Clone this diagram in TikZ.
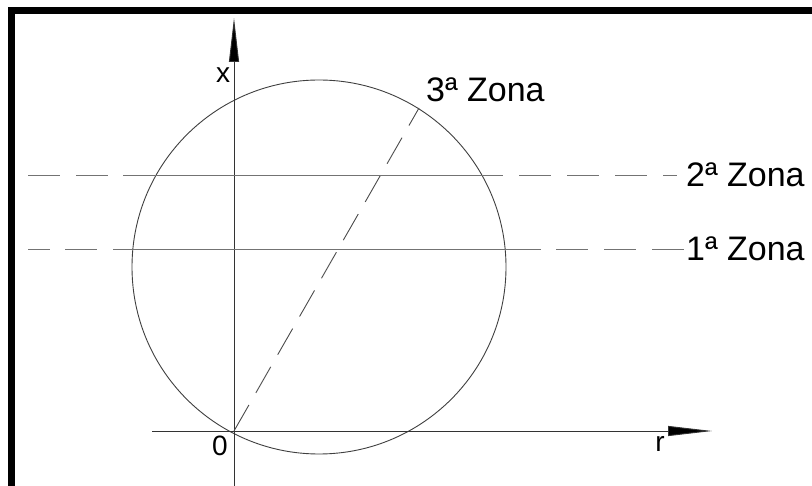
\documentclass[tikz,border=0pt]{standalone}
\usepackage{fontspec}
\setmainfont{Liberation Sans}
\usetikzlibrary{arrows.meta}
\begin{document}
\begin{tikzpicture}[x=1pt,y=-1pt,
  thinline/.style={line width=0.9pt, draw=black!75},
  zoneline/.style={line width=0.9pt, draw=black!55},
  dashline/.style={zoneline, dash pattern=on 32pt off 16pt},
  lbl/.style={font=\fontsize{34}{34}\selectfont, inner sep=0pt},
  axlbl/.style={font=\fontsize{28}{28}\selectfont, inner sep=0pt},
  axisarrow/.style={line width=0.9pt, draw=black!80, -{Triangle[length=44pt,width=10pt,fill=black]}}
]
\useasboundingbox (0,0) rectangle (812,486);
\clip (0,0) rectangle (812,486);
\fill[white] (0,0) rectangle (812,486);
\draw[line width=7pt] (11.5,10.5) rectangle (900,600);
% key points
\coordinate (O) at (234,431);
\coordinate (C) at (319,267);
\coordinate (xbot) at (234,486);
\coordinate (xtop) at (234,18);
\coordinate (rleft) at (152,431);
\coordinate (rtip) at (712,431);
\coordinate (D) at (419,108);
% labels
\node[lbl, anchor=west] (z3) at (426,90) {3ª Zona};
\node[lbl, anchor=west] (z2) at (686,175) {2ª Zona};
\node[lbl, anchor=west] (z1) at (686,249) {1ª Zona};
\node[axlbl] (xl) at (223,75) {x};
\node[axlbl] (ol) at (220,446) {0};
\node[axlbl] (rl) at (660,444) {r};
% circle
\draw[thinline] (C) circle [radius=187pt];
% axes
\draw[axisarrow] (xbot) -- (xtop);
\draw[axisarrow] (rleft) -- (rtip);
% diagonal
\draw[line width=0.9pt, draw=black!70, dash pattern=on 30pt off 14pt] (O) -- (D);
% 2a zona line
\coordinate (L2a) at (28,175);
\coordinate (L2b) at (123,175);
\coordinate (R2a) at (503,175);
\coordinate (R2b) at (519,175);
\coordinate (R2c) at (677,175);
\draw[dashline] (L2a) -- (L2b);
\draw[zoneline] (L2b) -- (R2a);
\draw[dashline] (R2b) -- (R2c);
% 1a zona line
\coordinate (L1a) at (28,249);
\coordinate (L1b) at (113,249);
\coordinate (R1a) at (541,249);
\coordinate (R1b) at (556,249);
\draw[zoneline, dash pattern=on 22pt off 15pt on 32pt off 16pt] (L1a) -- (L1b);
\draw[zoneline] (L1b) -- (R1a);
\draw[dashline] (R1b) -- (z1.west);
\end{tikzpicture}
\end{document}
